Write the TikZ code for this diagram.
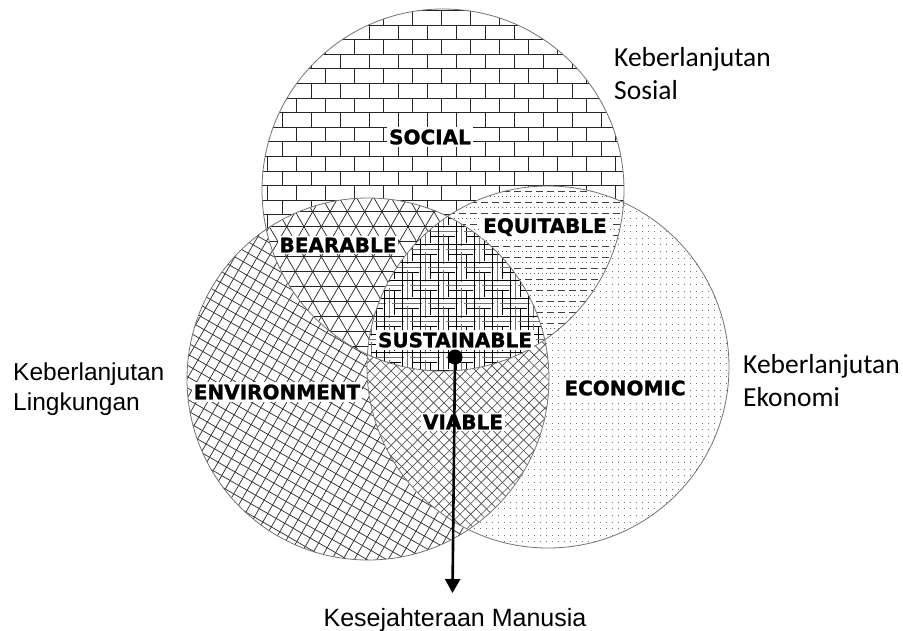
\documentclass[tikz,border=0pt]{standalone}
\usepackage{fontspec}
\setmainfont{Liberation Sans}
\newfontfamily\calfont{Carlito}
\newfontfamily\arfont{Liberation Sans}
\newfontfamily\lblfont{DejaVu Sans Bold}[FakeBold=1.2]
\usetikzlibrary{arrows.meta}

% the three circles of the diagram
\def\SocCirc{(443,190) circle (181)}
\def\EnvCirc{(368,379) circle (181)}
\def\EcoCirc{(548,367) circle (181)}

\begin{document}
\begin{tikzpicture}[x=1pt,y=-1pt,
  rim/.style={draw=black!55, line width=0.8pt},
  brickline/.style={line width=0.7pt, black!85},
  netline/.style={line width=0.75pt, black!80},
  triline/.style={line width=0.7pt, black!85},
  fineline/.style={line width=0.65pt, black!70},
  dashrow/.style={line width=0.8pt, black!75, dash pattern=on 7pt off 4pt},
  dotrow/.style={line width=0.7pt, black!60, dash pattern=on 1pt off 3pt},
  weaveA/.style={line width=0.8pt, black},
  weaveB/.style={line width=0.8pt, black!55},
  region/.style={fill=white, inner sep=2pt, font=\lblfont\fontsize{20}{20}\selectfont},
  outer/.style={inner sep=0pt, align=left, anchor=north west},
]
\useasboundingbox (0,0) rectangle (903,630);

% social circle: brick wall
\begin{scope}
  \clip \SocCirc;
  \fill[white] \SocCirc;
  \foreach \r in {0,...,27}{
    \pgfmathsetmacro\ya{-4.2+14.6*\r}
    \pgfmathsetmacro\yb{\ya+14.6}
    \pgfmathsetmacro\xo{238.7-14.5*mod(\r+1,2)}
    \draw[brickline] (255,\ya) -- (632,\ya);
    \foreach \k in {0,...,14}{
      \draw[brickline] ({\xo+29*\k},\ya) -- ({\xo+29*\k},\yb);
    }
  }
\end{scope}

% environment circle: tilted square net
\begin{scope}
  \clip \EnvCirc;
  \fill[white] \EnvCirc;
  \begin{scope}[shift={(368,379)}, rotate=-30]
    \foreach \k in {-20,...,20}{ \draw[netline] (-190,{9.8*\k}) -- (190,{9.8*\k}); }
  \end{scope}
  \begin{scope}[shift={(368,379)}, rotate=60]
    \foreach \k in {-20,...,20}{ \draw[netline] (-190,{9.8*\k}) -- (190,{9.8*\k}); }
  \end{scope}
\end{scope}

% economic circle: dot grid
\begin{scope}
  \clip \EcoCirc;
  \fill[white] \EcoCirc;
  \foreach \i in {0,...,61}{
    \foreach \j in {0,...,55}{
      \fill[black!55] ({366+6*\i},{185+6.6*\j}) rectangle +(1,1);
    }
  }
\end{scope}

% social and environment: triangle lattice
\begin{scope}
  \clip \SocCirc;
  \fill[white] \EnvCirc;
  \clip \EnvCirc;
  \foreach \a in {0,60,-60}{
    \begin{scope}[shift={(330,271.7)}, rotate=\a]
      \foreach \k in {-14,...,14}{ \draw[triline] (-220,{15*\k}) -- (220,{15*\k}); }
    \end{scope}
  }
\end{scope}

% social and economic: dashed and dotted rows
\begin{scope}
  \clip \SocCirc;
  \fill[white] \EcoCirc;
  \clip \EcoCirc;
  \foreach \k in {0,...,18}{
    \pgfmathsetmacro\yy{180+11*\k}
    \draw[dashrow] (360,\yy) -- (640,\yy);
    \draw[dotrow] (362,{\yy+5.5}) -- (640,{\yy+5.5});
  }
\end{scope}

% environment and economic: fine diagonal net
\begin{scope}
  \clip \EnvCirc;
  \fill[white] \EcoCirc;
  \clip \EcoCirc;
  \foreach \a in {45,-45}{
    \begin{scope}[shift={(460,440)}, rotate=\a]
      \foreach \k in {-28,...,28}{ \draw[fineline] (-220,{7.5*\k}) -- (220,{7.5*\k}); }
    \end{scope}
  }
\end{scope}

% all three: woven plaid
\begin{scope}
  \clip \SocCirc;
  \clip \EnvCirc;
  \fill[white] \EcoCirc;
  \clip \EcoCirc;
  \foreach \i in {0,...,11}{
    \foreach \j in {0,...,11}{
      \pgfmathsetmacro\xa{362+18*\i}
      \pgfmathsetmacro\ya{186+18*\j}
      \pgfmathtruncatemacro\pty{mod(\i+\j,2)}
      \ifnum\pty=0
        \draw[weaveA] ({\xa-9},{\ya+4}) -- ({\xa+27},{\ya+4});
        \draw[weaveB] ({\xa-6},{\ya+9}) -- ({\xa+24},{\ya+9});
        \draw[weaveA] ({\xa-3},{\ya+14}) -- ({\xa+21},{\ya+14});
      \else
        \draw[weaveA] ({\xa+4},{\ya-9}) -- ({\xa+4},{\ya+27});
        \draw[weaveB] ({\xa+9},{\ya-6}) -- ({\xa+9},{\ya+24});
        \draw[weaveA] ({\xa+14},{\ya-3}) -- ({\xa+14},{\ya+21});
      \fi
    }
  }
\end{scope}

% circle outlines
\draw[rim] \SocCirc;
\draw[rim] \EnvCirc;
\draw[rim] \EcoCirc;

% region labels
\node[region] (social) at (430,137) {SOCIAL};
\node[region] (bearable) at (338,245) {BEARABLE};
\node[region] (equitable) at (545,227) {EQUITABLE};
\node[region] (sustainable) at (455,340) {SUSTAINABLE};
\node[region] (environment) at (277,392) {ENVIRONMENT};
\node[region] (viable) at (463,422) {VIABLE};
\node[region] (economic) at (625,388) {ECONOMIC};

% pillar captions
\node[outer, font=\calfont\fontsize{27.5}{33}\selectfont] (socpillar) at (614,47) {Keberlanjutan\\Sosial};
\node[outer, font=\calfont\fontsize{27.5}{33}\selectfont] (ecopillar) at (743,354) {Keberlanjutan\\Ekonomi};
\node[outer, font=\arfont\fontsize{24.5}{30}\selectfont] (envpillar) at (13,362.5) {Keberlanjutan\\Lingkungan};

% outcome arrow
\node[circle, fill=black, inner sep=0pt, minimum size=15pt] (hub) at (455,357) {};
\node[inner sep=0pt, anchor=base, font=\arfont\fontsize{25}{30}\selectfont] (wellbeing) at (455,626.5) {Kesejahteraan Manusia};
\coordinate (tip) at (452.5,593);
\draw[line width=2.6pt, -{Triangle[width=15pt,length=14pt]}] (hub.center) -- (tip);
\end{tikzpicture}
\end{document}
